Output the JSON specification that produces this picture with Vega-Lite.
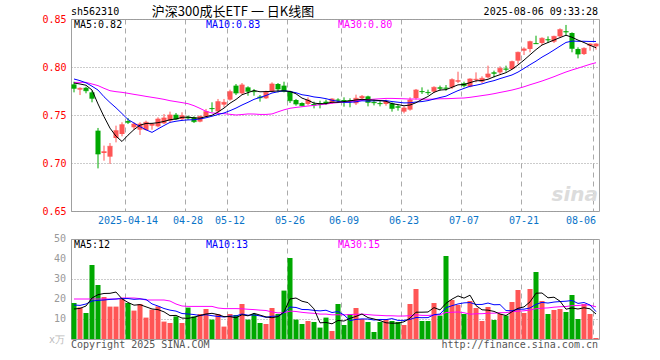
{
"$schema": "https://vega.github.io/schema/vega-lite/v6.json",
"background": "white",
"padding": {"left": 41, "top": 5, "right": 5, "bottom": 5},
"spacing": 7,
"datasets": {"k": [
{"d":"2025-03-31","o":0.7819,"h":0.7847,"l":0.7736,"c":0.7778,"v":18.0,"m5":0.7833,"m10":0.7875,"m30":0.7840,"vm5":15.0,"vm10":17.0,"vm30":20.0},
{"d":"2025-04-01","o":0.7764,"h":0.7788,"l":0.7708,"c":0.7778,"v":15.8,"m5":0.7823,"m10":0.7858,"m30":0.7840,"vm5":15.3,"vm10":16.8,"vm30":20.0},
{"d":"2025-04-02","o":0.7785,"h":0.7795,"l":0.7726,"c":0.7753,"v":13.0,"m5":0.7810,"m10":0.7835,"m30":0.7840,"vm5":16.5,"vm10":17.5,"vm30":20.0},
{"d":"2025-04-03","o":0.7736,"h":0.7753,"l":0.7632,"c":0.7674,"v":37.0,"m5":0.7760,"m10":0.7800,"m30":0.7823,"vm5":20.5,"vm10":19.0,"vm30":20.0},
{"d":"2025-04-07","o":0.7337,"h":0.7365,"l":0.6944,"c":0.7094,"v":27.0,"m5":0.7615,"m10":0.7760,"m30":0.7806,"vm5":22.16,"vm10":19.3,"vm30":20.0},
{"d":"2025-04-08","o":0.7104,"h":0.7181,"l":0.7024,"c":0.7118,"v":21.0,"m5":0.7483,"m10":0.7690,"m30":0.7778,"vm5":22.76,"vm10":19.5,"vm30":20.0},
{"d":"2025-04-09","o":0.7066,"h":0.7208,"l":0.6990,"c":0.7174,"v":16.2,"m5":0.7363,"m10":0.7630,"m30":0.7753,"vm5":22.84,"vm10":19.8,"vm30":20.0},
{"d":"2025-04-10","o":0.7260,"h":0.7389,"l":0.7215,"c":0.7337,"v":16.2,"m5":0.7279,"m10":0.7575,"m30":0.7743,"vm5":23.48,"vm10":20.0,"vm30":20.0},
{"d":"2025-04-11","o":0.7302,"h":0.7424,"l":0.7278,"c":0.7399,"v":20.0,"m5":0.7224,"m10":0.7515,"m30":0.7736,"vm5":20.08,"vm10":20.2,"vm30":20.5},
{"d":"2025-04-14","o":0.7436,"h":0.7469,"l":0.7406,"c":0.7424,"v":18.0,"m5":0.7290,"m10":0.7453,"m30":0.7726,"vm5":18.28,"vm10":20.22,"vm30":20.5},
{"d":"2025-04-15","o":0.7372,"h":0.7424,"l":0.7347,"c":0.7406,"v":14.2,"m5":0.7348,"m10":0.7416,"m30":0.7715,"vm5":16.92,"vm10":19.84,"vm30":20.5},
{"d":"2025-04-16","o":0.7347,"h":0.7424,"l":0.7292,"c":0.7406,"v":17.5,"m5":0.7394,"m10":0.7379,"m30":0.7705,"vm5":17.18,"vm10":20.01,"vm30":20.2},
{"d":"2025-04-17","o":0.7344,"h":0.7441,"l":0.7337,"c":0.7424,"v":10.7,"m5":0.7412,"m10":0.7346,"m30":0.7694,"vm5":16.08,"vm10":19.78,"vm30":19.5},
{"d":"2025-04-18","o":0.7389,"h":0.7417,"l":0.7347,"c":0.7406,"v":14.7,"m5":0.7413,"m10":0.7319,"m30":0.7684,"vm5":15.02,"vm10":17.55,"vm30":19.5},
{"d":"2025-04-21","o":0.7382,"h":0.7476,"l":0.7372,"c":0.7458,"v":16.3,"m5":0.7420,"m10":0.7355,"m30":0.7674,"vm5":14.68,"vm10":16.48,"vm30":19.5},
{"d":"2025-04-22","o":0.7413,"h":0.7510,"l":0.7406,"c":0.7469,"v":8.7,"m5":0.7433,"m10":0.7390,"m30":0.7663,"vm5":13.58,"vm10":15.25,"vm30":19.5},
{"d":"2025-04-23","o":0.7441,"h":0.7535,"l":0.7424,"c":0.7500,"v":8.0,"m5":0.7451,"m10":0.7423,"m30":0.7649,"vm5":11.68,"vm10":14.43,"vm30":19.0},
{"d":"2025-04-24","o":0.7503,"h":0.7521,"l":0.7451,"c":0.7458,"v":11.3,"m5":0.7458,"m10":0.7435,"m30":0.7639,"vm5":11.80,"vm10":13.94,"vm30":17.5},
{"d":"2025-04-25","o":0.7458,"h":0.7528,"l":0.7441,"c":0.7493,"v":8.0,"m5":0.7476,"m10":0.7444,"m30":0.7629,"vm5":10.46,"vm10":12.74,"vm30":16.5},
{"d":"2025-04-28","o":0.7483,"h":0.7493,"l":0.7451,"c":0.7469,"v":15.7,"m5":0.7478,"m10":0.7449,"m30":0.7618,"vm5":10.34,"vm10":12.51,"vm30":16.3},
{"d":"2025-04-29","o":0.7476,"h":0.7486,"l":0.7417,"c":0.7431,"v":11.3,"m5":0.7470,"m10":0.7451,"m30":0.7597,"vm5":10.86,"vm10":12.22,"vm30":16.3},
{"d":"2025-04-30","o":0.7431,"h":0.7493,"l":0.7424,"c":0.7486,"v":12.5,"m5":0.7467,"m10":0.7459,"m30":0.7569,"vm5":11.76,"vm10":11.72,"vm30":16.3},
{"d":"2025-05-06","o":0.7486,"h":0.7563,"l":0.7479,"c":0.7535,"v":15.0,"m5":0.7483,"m10":0.7471,"m30":0.7538,"vm5":12.50,"vm10":12.15,"vm30":16.3},
{"d":"2025-05-07","o":0.7573,"h":0.7632,"l":0.7528,"c":0.7566,"v":9.7,"m5":0.7497,"m10":0.7487,"m30":0.7521,"vm5":12.84,"vm10":11.65,"vm30":16.3},
{"d":"2025-05-08","o":0.7538,"h":0.7667,"l":0.7521,"c":0.7639,"v":12.5,"m5":0.7531,"m10":0.7505,"m30":0.7517,"vm5":12.20,"vm10":11.27,"vm30":15.5},
{"d":"2025-05-09","o":0.7608,"h":0.7667,"l":0.7580,"c":0.7632,"v":6.2,"m5":0.7572,"m10":0.7521,"m30":0.7514,"vm5":11.18,"vm10":11.02,"vm30":15.2},
{"d":"2025-05-12","o":0.7660,"h":0.7764,"l":0.7649,"c":0.7743,"v":12.5,"m5":0.7623,"m10":0.7545,"m30":0.7507,"vm5":11.18,"vm10":11.47,"vm30":15.2},
{"d":"2025-05-13","o":0.7806,"h":0.7823,"l":0.7708,"c":0.7729,"v":12.0,"m5":0.7662,"m10":0.7572,"m30":0.7500,"vm5":10.58,"vm10":11.54,"vm30":15.2},
{"d":"2025-05-14","o":0.7726,"h":0.7833,"l":0.7715,"c":0.7813,"v":17.5,"m5":0.7711,"m10":0.7604,"m30":0.7505,"vm5":12.14,"vm10":12.49,"vm30":15.1},
{"d":"2025-05-15","o":0.7788,"h":0.7799,"l":0.7701,"c":0.7747,"v":9.7,"m5":0.7733,"m10":0.7632,"m30":0.7511,"vm5":11.58,"vm10":11.89,"vm30":14.87},
{"d":"2025-05-16","o":0.7753,"h":0.7771,"l":0.7701,"c":0.7743,"v":12.5,"m5":0.7755,"m10":0.7663,"m30":0.7510,"vm5":12.84,"vm10":12.01,"vm30":14.69},
{"d":"2025-05-19","o":0.7691,"h":0.7708,"l":0.7639,"c":0.7680,"v":8.0,"m5":0.7742,"m10":0.7683,"m30":0.7506,"vm5":11.94,"vm10":11.56,"vm30":14.43},
{"d":"2025-05-20","o":0.7674,"h":0.7753,"l":0.7667,"c":0.7736,"v":7.5,"m5":0.7744,"m10":0.7703,"m30":0.7506,"vm5":11.04,"vm10":10.81,"vm30":14.25},
{"d":"2025-05-21","o":0.7747,"h":0.7840,"l":0.7736,"c":0.7823,"v":15.5,"m5":0.7746,"m10":0.7729,"m30":0.7511,"vm5":10.64,"vm10":11.39,"vm30":13.53},
{"d":"2025-05-22","o":0.7823,"h":0.7833,"l":0.7736,"c":0.7771,"v":12.5,"m5":0.7751,"m10":0.7742,"m30":0.7533,"vm5":11.20,"vm10":11.39,"vm30":13.05},
{"d":"2025-05-23","o":0.7806,"h":0.7847,"l":0.7736,"c":0.7747,"v":24.2,"m5":0.7751,"m10":0.7753,"m30":0.7554,"vm5":13.54,"vm10":13.19,"vm30":13.15},
{"d":"2025-05-26","o":0.7747,"h":0.7753,"l":0.7625,"c":0.7649,"v":40.5,"m5":0.7745,"m10":0.7744,"m30":0.7570,"vm5":20.04,"vm10":15.99,"vm30":13.96},
{"d":"2025-05-27","o":0.7656,"h":0.7667,"l":0.7597,"c":0.7615,"v":9.7,"m5":0.7721,"m10":0.7732,"m30":0.7579,"vm5":20.48,"vm10":15.76,"vm30":13.75},
{"d":"2025-05-28","o":0.7625,"h":0.7632,"l":0.7590,"c":0.7597,"v":7.5,"m5":0.7676,"m10":0.7711,"m30":0.7586,"vm5":18.88,"vm10":14.76,"vm30":13.33},
{"d":"2025-05-29","o":0.7615,"h":0.7684,"l":0.7604,"c":0.7656,"v":9.0,"m5":0.7653,"m10":0.7702,"m30":0.7594,"vm5":18.18,"vm10":14.69,"vm30":13.03},
{"d":"2025-05-30","o":0.7615,"h":0.7639,"l":0.7569,"c":0.7604,"v":8.5,"m5":0.7624,"m10":0.7688,"m30":0.7600,"vm5":15.04,"vm10":14.29,"vm30":12.84},
{"d":"2025-06-03","o":0.7625,"h":0.7649,"l":0.7569,"c":0.7611,"v":5.7,"m5":0.7617,"m10":0.7681,"m30":0.7607,"vm5":8.08,"vm10":14.06,"vm30":12.45},
{"d":"2025-06-04","o":0.7639,"h":0.7660,"l":0.7604,"c":0.7625,"v":10.7,"m5":0.7619,"m10":0.7670,"m30":0.7614,"vm5":8.28,"vm10":14.38,"vm30":12.45},
{"d":"2025-06-05","o":0.7625,"h":0.7674,"l":0.7615,"c":0.7667,"v":4.0,"m5":0.7633,"m10":0.7654,"m30":0.7623,"vm5":7.58,"vm10":13.23,"vm30":12.09},
{"d":"2025-06-06","o":0.7660,"h":0.7674,"l":0.7632,"c":0.7653,"v":17.5,"m5":0.7632,"m10":0.7642,"m30":0.7629,"vm5":9.28,"vm10":13.73,"vm30":12.13},
{"d":"2025-06-09","o":0.7656,"h":0.7684,"l":0.7587,"c":0.7646,"v":7.0,"m5":0.7640,"m10":0.7632,"m30":0.7635,"vm5":8.98,"vm10":12.01,"vm30":12.07},
{"d":"2025-06-10","o":0.7653,"h":0.7674,"l":0.7580,"c":0.7646,"v":12.5,"m5":0.7647,"m10":0.7632,"m30":0.7640,"vm5":10.34,"vm10":9.21,"vm30":12.22},
{"d":"2025-06-11","o":0.7622,"h":0.7712,"l":0.7604,"c":0.7674,"v":15.5,"m5":0.7657,"m10":0.7638,"m30":0.7647,"vm5":11.30,"vm10":9.79,"vm30":12.36},
{"d":"2025-06-12","o":0.7674,"h":0.7708,"l":0.7649,"c":0.7694,"v":10.0,"m5":0.7663,"m10":0.7648,"m30":0.7654,"vm5":12.50,"vm10":10.04,"vm30":12.43},
{"d":"2025-06-13","o":0.7694,"h":0.7701,"l":0.7590,"c":0.7632,"v":8.5,"m5":0.7658,"m10":0.7645,"m30":0.7660,"vm5":10.70,"vm10":9.99,"vm30":12.19},
{"d":"2025-06-16","o":0.7637,"h":0.7660,"l":0.7600,"c":0.7628,"v":3.5,"m5":0.7655,"m10":0.7648,"m30":0.7665,"vm5":10.00,"vm10":9.49,"vm30":11.93},
{"d":"2025-06-17","o":0.7625,"h":0.7649,"l":0.7590,"c":0.7618,"v":8.5,"m5":0.7650,"m10":0.7649,"m30":0.7669,"vm5":9.20,"vm10":9.77,"vm30":11.80},
{"d":"2025-06-18","o":0.7615,"h":0.7660,"l":0.7597,"c":0.7642,"v":10.0,"m5":0.7643,"m10":0.7650,"m30":0.7673,"vm5":8.10,"vm10":9.70,"vm30":11.63},
{"d":"2025-06-19","o":0.7622,"h":0.7632,"l":0.7535,"c":0.7569,"v":9.0,"m5":0.7618,"m10":0.7640,"m30":0.7673,"vm5":7.90,"vm10":10.20,"vm30":11.61},
{"d":"2025-06-20","o":0.7590,"h":0.7604,"l":0.7545,"c":0.7580,"v":8.5,"m5":0.7608,"m10":0.7633,"m30":0.7671,"vm5":7.90,"vm10":9.30,"vm30":11.47},
{"d":"2025-06-23","o":0.7535,"h":0.7590,"l":0.7517,"c":0.7573,"v":7.0,"m5":0.7596,"m10":0.7626,"m30":0.7669,"vm5":8.60,"vm10":9.30,"vm30":11.50},
{"d":"2025-06-24","o":0.7556,"h":0.7684,"l":0.7545,"c":0.7656,"v":17.5,"m5":0.7604,"m10":0.7627,"m30":0.7666,"vm5":10.40,"vm10":9.80,"vm30":11.67},
{"d":"2025-06-25","o":0.7677,"h":0.7771,"l":0.7660,"c":0.7760,"v":25.0,"m5":0.7628,"m10":0.7635,"m30":0.7667,"vm5":13.40,"vm10":10.75,"vm30":12.10},
{"d":"2025-06-26","o":0.7750,"h":0.7788,"l":0.7719,"c":0.7743,"v":9.0,"m5":0.7662,"m10":0.7640,"m30":0.7665,"vm5":13.40,"vm10":10.65,"vm30":11.82},
{"d":"2025-06-27","o":0.7740,"h":0.7764,"l":0.7708,"c":0.7733,"v":9.0,"m5":0.7693,"m10":0.7650,"m30":0.7664,"vm5":13.50,"vm10":10.70,"vm30":11.79},
{"d":"2025-06-30","o":0.7743,"h":0.7799,"l":0.7729,"c":0.7788,"v":18.0,"m5":0.7736,"m10":0.7666,"m30":0.7666,"vm5":15.70,"vm10":12.15,"vm30":11.98},
{"d":"2025-07-01","o":0.7788,"h":0.7806,"l":0.7753,"c":0.7778,"v":11.7,"m5":0.7760,"m10":0.7682,"m30":0.7669,"vm5":14.54,"vm10":12.47,"vm30":12.10},
{"d":"2025-07-02","o":0.7784,"h":0.7812,"l":0.7753,"c":0.7778,"v":41.5,"m5":0.7764,"m10":0.7696,"m30":0.7670,"vm5":17.84,"vm10":15.62,"vm30":13.23},
{"d":"2025-07-03","o":0.7788,"h":0.7882,"l":0.7771,"c":0.7868,"v":19.5,"m5":0.7789,"m10":0.7726,"m30":0.7672,"vm5":19.94,"vm10":16.67,"vm30":13.37},
{"d":"2025-07-04","o":0.7847,"h":0.7951,"l":0.7833,"c":0.7858,"v":17.0,"m5":0.7814,"m10":0.7754,"m30":0.7675,"vm5":21.54,"vm10":17.52,"vm30":13.52},
{"d":"2025-07-07","o":0.7830,"h":0.7847,"l":0.7788,"c":0.7806,"v":12.5,"m5":0.7818,"m10":0.7777,"m30":0.7677,"vm5":20.44,"vm10":18.07,"vm30":13.13},
{"d":"2025-07-08","o":0.7795,"h":0.7882,"l":0.7788,"c":0.7875,"v":19.0,"m5":0.7837,"m10":0.7799,"m30":0.7684,"vm5":21.90,"vm10":18.22,"vm30":12.41},
{"d":"2025-07-09","o":0.7865,"h":0.7944,"l":0.7840,"c":0.7872,"v":15.5,"m5":0.7856,"m10":0.7810,"m30":0.7693,"vm5":16.70,"vm10":17.27,"vm30":12.60},
{"d":"2025-07-10","o":0.7847,"h":0.7903,"l":0.7833,"c":0.7882,"v":9.0,"m5":0.7859,"m10":0.7824,"m30":0.7702,"vm5":14.60,"vm10":17.27,"vm30":12.65},
{"d":"2025-07-11","o":0.7892,"h":0.8014,"l":0.7882,"c":0.7927,"v":16.0,"m5":0.7872,"m10":0.7843,"m30":0.7711,"vm5":14.40,"vm10":17.97,"vm30":12.89},
{"d":"2025-07-14","o":0.7944,"h":0.7962,"l":0.7892,"c":0.7934,"v":9.5,"m5":0.7898,"m10":0.7858,"m30":0.7722,"vm5":13.80,"vm10":17.12,"vm30":12.92},
{"d":"2025-07-15","o":0.7944,"h":0.8007,"l":0.7927,"c":0.7986,"v":12.5,"m5":0.7920,"m10":0.7879,"m30":0.7735,"vm5":12.50,"vm10":17.20,"vm30":13.15},
{"d":"2025-07-16","o":0.7983,"h":0.8014,"l":0.7951,"c":0.7976,"v":11.7,"m5":0.7941,"m10":0.7898,"m30":0.7747,"vm5":11.74,"vm10":14.22,"vm30":13.18},
{"d":"2025-07-17","o":0.7979,"h":0.8066,"l":0.7972,"c":0.8056,"v":18.5,"m5":0.7976,"m10":0.7917,"m30":0.7760,"vm5":13.64,"vm10":14.12,"vm30":13.66},
{"d":"2025-07-18","o":0.8066,"h":0.8160,"l":0.8031,"c":0.8153,"v":24.5,"m5":0.8021,"m10":0.7947,"m30":0.7776,"vm5":15.34,"vm10":14.87,"vm30":13.90},
{"d":"2025-07-21","o":0.8170,"h":0.8205,"l":0.8125,"c":0.8188,"v":13.0,"m5":0.8072,"m10":0.7985,"m30":0.7794,"vm5":16.04,"vm10":14.92,"vm30":14.10},
{"d":"2025-07-22","o":0.8188,"h":0.8274,"l":0.8153,"c":0.8264,"v":25.0,"m5":0.8127,"m10":0.8024,"m30":0.7815,"vm5":18.54,"vm10":15.52,"vm30":14.51},
{"d":"2025-07-23","o":0.8250,"h":0.8326,"l":0.8240,"c":0.8243,"v":33.5,"m5":0.8181,"m10":0.8061,"m30":0.7834,"vm5":22.90,"vm10":17.32,"vm30":15.11},
{"d":"2025-07-24","o":0.8250,"h":0.8309,"l":0.8229,"c":0.8299,"v":19.0,"m5":0.8229,"m10":0.8103,"m30":0.7854,"vm5":23.00,"vm10":18.32,"vm30":15.41},
{"d":"2025-07-25","o":0.8288,"h":0.8319,"l":0.8250,"c":0.8282,"v":12.5,"m5":0.8255,"m10":0.8138,"m30":0.7876,"vm5":20.60,"vm10":17.97,"vm30":15.55},
{"d":"2025-07-28","o":0.8264,"h":0.8326,"l":0.8250,"c":0.8319,"v":14.5,"m5":0.8281,"m10":0.8177,"m30":0.7899,"vm5":20.90,"vm10":18.47,"vm30":15.91},
{"d":"2025-07-29","o":0.8319,"h":0.8403,"l":0.8309,"c":0.8389,"v":15.0,"m5":0.8306,"m10":0.8217,"m30":0.7924,"vm5":18.90,"vm10":18.72,"vm30":16.13},
{"d":"2025-07-30","o":0.8372,"h":0.8438,"l":0.8326,"c":0.8365,"v":13.5,"m5":0.8331,"m10":0.8256,"m30":0.7948,"vm5":14.90,"vm10":18.90,"vm30":16.25},
{"d":"2025-07-31","o":0.8354,"h":0.8361,"l":0.8153,"c":0.8194,"v":22.0,"m5":0.8310,"m10":0.8270,"m30":0.7969,"vm5":15.50,"vm10":19.25,"vm30":16.68},
{"d":"2025-08-01","o":0.8188,"h":0.8205,"l":0.8090,"c":0.8135,"v":10.0,"m5":0.8280,"m10":0.8268,"m30":0.7988,"vm5":15.00,"vm10":17.80,"vm30":16.73},
{"d":"2025-08-04","o":0.8135,"h":0.8205,"l":0.8125,"c":0.8194,"v":17.5,"m5":0.8255,"m10":0.8268,"m30":0.8008,"vm5":15.60,"vm10":18.25,"vm30":17.08},
{"d":"2025-08-05","o":0.8222,"h":0.8247,"l":0.8170,"c":0.8240,"v":12.5,"m5":0.8226,"m10":0.8266,"m30":0.8028,"vm5":15.10,"vm10":17.00,"vm30":16.91},
{"d":"2025-08-06","o":0.8215,"h":0.8247,"l":0.8181,"c":0.8240,"v":0.5,"m5":0.8201,"m10":0.8266,"m30":0.8045,"vm5":12.50,"vm10":13.70,"vm30":16.10}
]},
"vconcat": [
{
"width": 528, "height": 192,
"data": {"name": "k"},
"encoding": {"x": {"field": "d", "type": "ordinal", "scale": {"paddingInner": 0, "paddingOuter": 0},
  "axis": {"title": null, "values": ["2025-04-14","2025-04-28","2025-05-12","2025-05-26","2025-06-09","2025-06-23","2025-07-07","2025-07-21","2025-08-06"],
   "labelExpr": "datum.value == '2025-04-14' ? datum.value : slice(datum.value, 5)",
   "labelAlign": {"condition": {"test": "datum.value == '2025-08-06'", "value": "right"}, "value": "center"},
   "labelAngle": 0, "labelOverlap": false, "ticks": false, "domain": false, "grid": true, "gridDash": [5, 4], "gridColor": "#aaaaaa", "bandPosition": 0.08,
   "labelColor": "#0a74c8", "labelFont": "DejaVu Sans Mono", "labelFontSize": 10, "labelPadding": 4}}},
"layer": [
 {"mark": {"type": "rule", "strokeWidth": 1},
  "encoding": {"y": {"field": "l", "type": "quantitative", "scale": {"domain": [0.65, 0.85], "nice": false, "zero": false},
     "axis": {"title": null, "values": [0.65, 0.7, 0.75, 0.8, 0.85], "format": ".2f", "labelOverlap": false, "ticks": false, "domain": false, "grid": true, "gridDash": [1, 2], "gridColor": "#999999", "labelColor": "#ff0000", "labelFont": "DejaVu Sans Mono", "labelFontSize": 10, "labelPadding": 5}},
   "y2": {"field": "h"},
   "color": {"condition": {"test": "datum.c >= datum.o", "value": "#ff5555"}, "value": "#00a800"}}},
 {"mark": {"type": "bar", "width": {"band": 0.84}},
  "encoding": {"y": {"field": "o", "type": "quantitative"}, "y2": {"field": "c"},
   "color": {"condition": {"test": "datum.c >= datum.o", "value": "#ff5555"}, "value": "#00a800"}}},
 {"mark": {"type": "tick", "thickness": 1, "size": 5},
  "encoding": {"y": {"field": "c", "type": "quantitative"},
   "color": {"condition": {"test": "datum.c >= datum.o", "value": "#ff5555"}, "value": "#00a800"}}},
 {"mark": {"type": "line", "color": "#ff00ff", "strokeWidth": 1}, "encoding": {"y": {"field": "m30", "type": "quantitative"}}},
 {"mark": {"type": "line", "color": "#0000ff", "strokeWidth": 1}, "encoding": {"y": {"field": "m10", "type": "quantitative"}}},
 {"mark": {"type": "line", "color": "#000000", "strokeWidth": 1}, "encoding": {"y": {"field": "m5", "type": "quantitative"}}},
 {"data": {"values": [{"d": "2025-08-06", "t": "sina"}]},
  "mark": {"type": "text", "align": "right", "baseline": "bottom", "dx": 2, "dy": -6, "color": "#dcdcdc", "font": "DejaVu Sans", "fontSize": 20, "fontStyle": "italic", "fontWeight": "bold"},
  "encoding": {"y": {"datum": 0.65}, "text": {"field": "t"}}},
 {"data": {"values": [{"d": "2025-03-31", "t": "MA5:0.82", "s": "MA5"}, {"d": "2025-05-06", "t": "MA10:0.83", "s": "MA10"}, {"d": "2025-06-06", "t": "MA30:0.80", "s": "MA30"}]},
  "mark": {"type": "text", "align": "left", "baseline": "middle", "dx": 0, "dy": 6, "font": "DejaVu Sans Mono", "fontSize": 10},
  "encoding": {"y": {"datum": 0.85}, "text": {"field": "t"},
   "color": {"field": "s", "type": "nominal", "scale": {"domain": ["MA5", "MA10", "MA30"], "range": ["#000000", "#0000ff", "#ff00ff"]}, "legend": null}}},
 {"data": {"values": [{"d": "2025-03-31", "t": "sh562310"}]},
  "mark": {"type": "text", "align": "left", "baseline": "alphabetic", "dx": -3, "dy": -4, "color": "#000000", "font": "DejaVu Sans Mono", "fontSize": 10},
  "encoding": {"y": {"datum": 0.85}, "text": {"field": "t"}}},
 {"data": {"values": [{"d": "2025-05-13", "t": "沪深300成长ETF 一 日K线图"}]},
  "mark": {"type": "text", "align": "center", "baseline": "alphabetic", "dx": -3, "dy": -3, "color": "#000000", "font": "Noto Sans CJK SC", "fontSize": 13},
  "encoding": {"y": {"datum": 0.85}, "text": {"field": "t"}}},
 {"data": {"values": [{"d": "2025-08-06", "t": "2025-08-06 09:33:28"}]},
  "mark": {"type": "text", "align": "right", "baseline": "alphabetic", "dx": 2, "dy": -4, "color": "#000000", "font": "DejaVu Sans Mono", "fontSize": 10},
  "encoding": {"y": {"datum": 0.85}, "text": {"field": "t"}}}
]
},
{
"width": 528, "height": 100,
"data": {"name": "k"},
"encoding": {"x": {"field": "d", "type": "ordinal", "scale": {"paddingInner": 0, "paddingOuter": 0},
  "axis": {"title": null, "values": ["2025-04-14","2025-04-28","2025-05-12","2025-05-26","2025-06-09","2025-06-23","2025-07-07","2025-07-21","2025-08-06"],
   "labels": false, "ticks": false, "domain": false, "grid": true, "gridDash": [5, 4], "gridColor": "#aaaaaa", "bandPosition": 0.08}}},
"layer": [
 {"mark": {"type": "bar", "width": {"band": 0.84}},
  "encoding": {"y": {"field": "v", "type": "quantitative", "scale": {"domain": [0, 50], "nice": false},
     "axis": {"title": null, "values": [10, 20, 30, 40, 50], "labels": false, "ticks": false, "domain": false, "grid": true, "gridDash": [1, 2], "gridColor": "#999999"}},
   "color": {"condition": {"test": "datum.c >= datum.o", "value": "#ff5555"}, "value": "#00a800"}}},
 {"mark": {"type": "line", "color": "#ff00ff", "strokeWidth": 1}, "encoding": {"y": {"field": "vm30", "type": "quantitative"}}},
 {"mark": {"type": "line", "color": "#0000ff", "strokeWidth": 1}, "encoding": {"y": {"field": "vm10", "type": "quantitative"}}},
 {"mark": {"type": "line", "color": "#000000", "strokeWidth": 1}, "encoding": {"y": {"field": "vm5", "type": "quantitative"}}},
 {"data": {"values": [{"d": "2025-03-31", "y": 10, "t": "10"}, {"d": "2025-03-31", "y": 20, "t": "20"}, {"d": "2025-03-31", "y": 30, "t": "30"}, {"d": "2025-03-31", "y": 40, "t": "40"}, {"d": "2025-03-31", "y": 50, "t": "50"}]},
  "mark": {"type": "text", "align": "right", "baseline": "middle", "dx": -8, "color": "#999999", "font": "DejaVu Sans Mono", "fontSize": 10},
  "encoding": {"y": {"field": "y", "type": "quantitative"}, "text": {"field": "t"}}},
 {"data": {"values": [{"d": "2025-03-31", "t": "MA5:12", "s": "MA5"}, {"d": "2025-05-06", "t": "MA10:13", "s": "MA10"}, {"d": "2025-06-06", "t": "MA30:15", "s": "MA30"}]},
  "mark": {"type": "text", "align": "left", "baseline": "middle", "dx": 0, "dy": 6, "font": "DejaVu Sans Mono", "fontSize": 10},
  "encoding": {"y": {"datum": 50}, "text": {"field": "t"},
   "color": {"field": "s", "type": "nominal", "scale": {"domain": ["MA5", "MA10", "MA30"], "range": ["#000000", "#0000ff", "#ff00ff"]}, "legend": null}}},
 {"data": {"values": [{"d": "2025-03-31", "t": "x万"}]},
  "mark": {"type": "text", "align": "right", "baseline": "middle", "dx": -9, "dy": 1, "color": "#bbbbbb", "font": "DejaVu Sans Mono", "fontSize": 10},
  "encoding": {"y": {"datum": 0}, "text": {"field": "t"}}},
 {"data": {"values": [{"d": "2025-03-31", "t": "Copyright 2025 SINA.COM"}]},
  "mark": {"type": "text", "align": "left", "baseline": "middle", "dx": -3, "dy": 6, "color": "#555555", "font": "DejaVu Sans Mono", "fontSize": 10},
  "encoding": {"y": {"datum": 0}, "text": {"field": "t"}}},
 {"data": {"values": [{"d": "2025-08-06", "t": "http://finance.sina.com.cn"}]},
  "mark": {"type": "text", "align": "right", "baseline": "middle", "dx": 2, "dy": 6, "color": "#555555", "font": "DejaVu Sans Mono", "fontSize": 10},
  "encoding": {"y": {"datum": 0}, "text": {"field": "t"}}}
]
}
],
"config": {
 "view": {"stroke": "#a0a0a0", "strokeWidth": 1},
 "axisY": {"labelOverlap": false},
 "text": {"font": "DejaVu Sans Mono", "fontSize": 10}
}
}
